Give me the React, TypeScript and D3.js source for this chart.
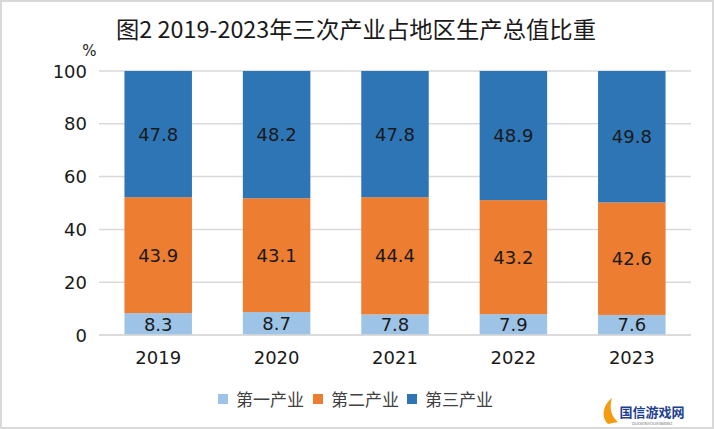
import React from "react";
import * as d3 from "d3";

const years = ["2019", "2020", "2021", "2022", "2023"];
const primary = [8.3, 8.7, 7.8, 7.9, 7.6];
const secondary = [43.9, 43.1, 44.4, 43.2, 42.6];
const tertiary = [47.8, 48.2, 47.8, 48.9, 49.8];
const seriesNames = ["第一产业", "第二产业", "第三产业"];
const yTicks = [0, 20, 40, 60, 80, 100];
const title = "图2 2019-2023年三次产业占地区生产总值比重";

const colors = ["#9DC3E6", "#ED7D31", "#2E75B6"];

export default function App() {
  const W = 714, H = 429;
  const left = 99, right = 691, top = 71, bottom = 335;
  const x = d3.scaleBand<string>().domain(years).range([left, right]).paddingInner(0.43).paddingOuter(0.215);
  const y = d3.scaleLinear().domain([0, 100]).range([bottom, top]);
  const rows = years.map((yr, i) => ({ year: yr, s0: primary[i], s1: secondary[i], s2: tertiary[i] }));
  const stack = d3.stack<any>().keys(["s0", "s1", "s2"])(rows);
  const num = "DejaVu Sans, sans-serif";
  const legendX = [218, 313, 407];
  return (
    <svg width={W} height={H} style={{ position: "absolute", left: 0, top: 0 }}>
      <rect x={0} y={0} width={W} height={H} fill="#fff" />
      <rect x={1} y={1} width={W - 2} height={H - 2} fill="none" stroke="#d9d9d9" strokeWidth={2} />
      <text x={116} y={38} textLength={480} lengthAdjust="spacingAndGlyphs" fontFamily="'Noto Sans CJK SC', sans-serif" fontSize={23} fill="#1a1a1a">{title}</text>
      <text x={89.5} y={55.5} textAnchor="middle" fontFamily={num} fontSize={15} fill="#1a1a1a">%</text>
      {yTicks.map((t) => (
        <g key={t}>
          <line x1={left} x2={right} y1={y(t)} y2={y(t)} stroke="#d9d9d9" strokeWidth={1.5} />
          <text x={87} y={y(t) + 6.5} textAnchor="end" fontFamily={num} fontSize={18} fill="#1a1a1a">{t}</text>
        </g>
      ))}
      {stack.map((layer, si) => (
        <g key={si}>
          {layer.map((d, i) => (
            <g key={i}>
              <rect x={x(years[i])} y={y(d[1])} width={x.bandwidth()} height={y(d[0]) - y(d[1])} fill={colors[si]} />
              <text x={(x(years[i]) as number) + x.bandwidth() / 2} y={(y(d[0]) + y(d[1])) / 2 + 6.5} textAnchor="middle" fontFamily={num} fontSize={18} fill="#1a1a1a">
                {(d[1] - d[0]).toFixed(1)}
              </text>
            </g>
          ))}
        </g>
      ))}
      <line x1={left} x2={right} y1={bottom} y2={bottom} stroke="#d9d9d9" strokeWidth={1.5} />
      {years.map((yr) => (
        <text key={yr} x={(x(yr) as number) + x.bandwidth() / 2} y={364} textAnchor="middle" fontFamily={num} fontSize={18} fill="#1a1a1a">{yr}</text>
      ))}
      {seriesNames.map((n, i) => (
        <g key={n}>
          <rect x={legendX[i]} y={394} width={10} height={10} fill={colors[i]} />
          <text x={legendX[i] + 18} y={406} fontFamily="'Noto Sans CJK SC', serif" fontSize={17} fill="#404040">{n}</text>
        </g>
      ))}
      <g>
        <text x={652} y={417} textAnchor="middle" fontFamily="'Noto Sans CJK SC', sans-serif" fontWeight="bold" fontSize={13} fill="#1f3f8f">国信游戏网</text>
        <text x={652} y={425} textAnchor="middle" fontFamily={num} fontSize={4} fill="#777">GUOXINYOUXIWANG</text>
        <path d="M608,424 C600,416 604,404 612,398 C609,408 611,416 618,422 Z" fill="#f39c12" />
      </g>
    </svg>
  );
}
